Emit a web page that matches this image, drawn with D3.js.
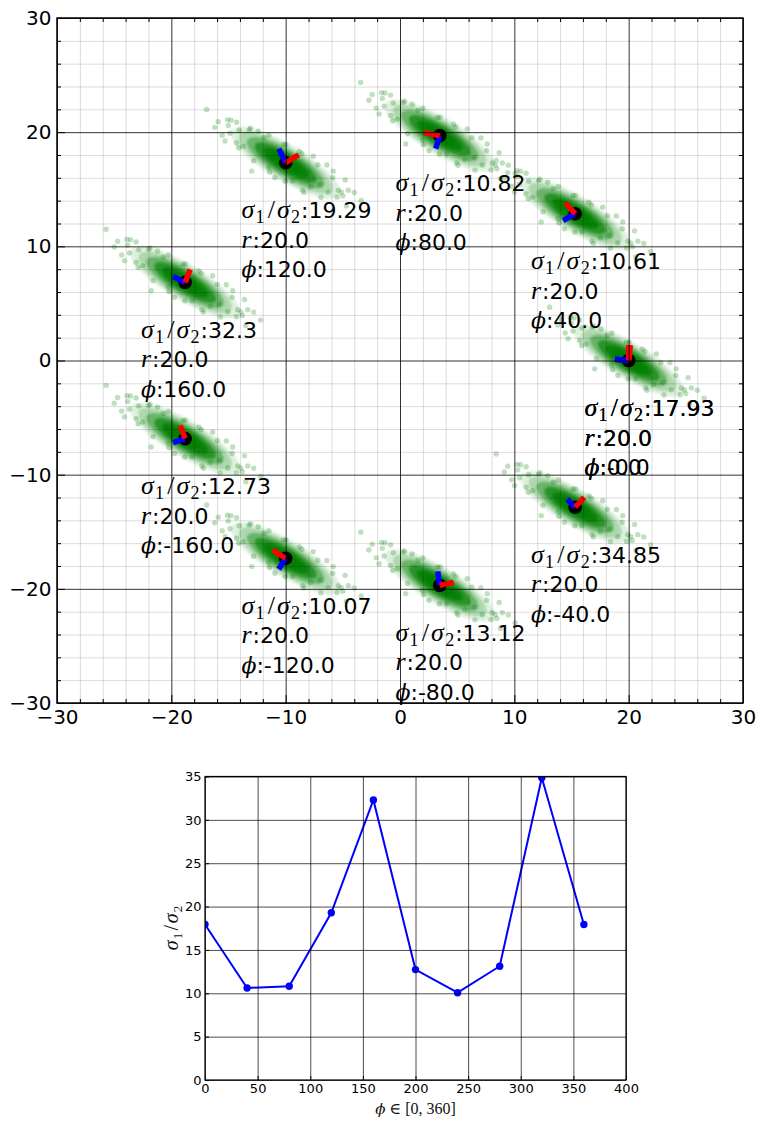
<!DOCTYPE html>
<html>
<head>
<meta charset="UTF-8">
<title>sigma ratio vs phi</title>
<script src="https://d3js.org/d3.v7.min.js"></script>
<style>
  body { margin: 0; background: white; }
  svg { display: block; }
  .tick text { fill: #000; }
</style>
</head>
<body>
<svg id="chart" width="757" height="1123"></svg>
<script>
// ---- data ----
const radius = 20;
const phis = [0, 40, 80, 120, 160, -160, -120, -80, -40, 360];
const phiLabels = ["0.0", "40.0", "80.0", "120.0", "160.0", "-160.0", "-120.0", "-80.0", "-40.0", "-0.0"];
const sigmaLabels = ["17.93", "10.61", "10.82", "19.29", "32.3", "12.73", "10.07", "13.12", "34.85", "17.93"];
// principal axis ends (offsets from centre, data units)
const redAxis = [[0, 1.35], [-0.87, 0.96], [-1.4, 0.26], [1.14, 0.7], [0.44, 1.14],
                 [-0.44, 1.14], [-1.14, 0.7], [1.22, 0.26], [0.79, 0.87], [0.15, 1.35]];
const blueAxis = [[-1.2, 0.1], [-1.05, -0.61], [-0.35, -1.14], [-0.61, 1.22], [-1.05, 0.52],
                  [-1.05, -0.35], [-0.61, -0.96], [-0.17, 1.22], [-0.7, 0.7], [-1.2, 0.1]];
// shape of each noise cloud: orientation (deg) and spread along / across it
const cloudAngle = -31;
const cloudSigma = [2.0, 0.58];
// loose points seen round the clouds (offsets, data units)
const speckle = [[-6.91, 4.66], [-5.02, 3.26], [-4.78, 3.73], [-5.55, 2.41], [-4.29, 3.55], [-4.06, 2.85],
  [-3.71, 1.45], [5.48, -2.4], [4.16, -0.73], [4.6, -2.4], [3.73, -2.57], [2.41, 0.58], [-2.97, -0.73],
  [-0.94, -1.31], [3.0, -1.9], [-4.29, 1.75], [-2.4, 2.76], [5.0, -2.9], [6.0, -2.6], [-3.2, 2.9],
  [1.2, 1.0], [-1.5, -0.4], [2.2, -2.1], [4.5, -3.0], [-5.9, 3.6], [0.6, -1.6], [-1.9, 2.2],
  [3.6, -0.2], [1.6, -2.6], [-5.3, 1.9], [5.2, -1.5], [-0.2, 1.6],
  [4.11, -1.31], [3.08, -3.02], [-3.08, 3.02], [-4.11, 1.31], [2.81, -0.17], [1.47, -2.4],
  [-1.47, 2.4], [-2.81, 0.17], [1.41, 0.79], [-0.03, -1.61], [0.03, 1.61], [-1.41, -0.79],
  [4.87, -2.58], [-4.87, 2.58], [5.31, -3.78], [-5.09, 3.76], [6.6, -3.3], [-6.2, 3.1]];

const phiDeg = [0, 40, 80, 120, 160, 200, 240, 280, 320, 360];
const ratio = [17.93, 10.61, 10.82, 19.29, 32.3, 12.73, 10.07, 13.12, 34.85, 17.93];

const sansFont = "DejaVu Sans, sans-serif";
const mathFont = "Liberation Serif, DejaVu Serif, serif";

const svg = d3.select("#chart");

// ================= top panel =================
const x = d3.scaleLinear().domain([-30, 30]).range([57, 743]);
const y = d3.scaleLinear().domain([-30, 30]).range([703, 18]);
const ppu = x(1) - x(0);

const upper = svg.append("g");
const centers = phis.map(p => [radius * Math.cos(p * Math.PI / 180), radius * Math.sin(p * Math.PI / 180)]);

const defs = svg.append("defs");
defs.append("filter").attr("id", "soft").append("feGaussianBlur").attr("stdDeviation", 1.3);
defs.append("clipPath").attr("id", "clipTop").append("rect")
  .attr("x", 57).attr("y", 18).attr("width", 686).attr("height", 685);

const clouds = upper.append("g").attr("clip-path", "url(#clipTop)");
const layers = [[2.75, 0.13], [2.35, 0.22], [1.95, 0.4], [1.55, 0.62], [1.15, 0.8], [0.75, 0.9]];

centers.forEach((c, i) => {
  if (i === 9) return; // 360 sits on top of 0
  const g = clouds.append("g")
    .attr("transform", `translate(${x(c[0])},${y(c[1])}) rotate(${-cloudAngle})`);
  g.append("g").attr("filter", "url(#soft)")
    .selectAll("ellipse").data(layers).join("ellipse")
    .attr("rx", d => d[0] * cloudSigma[0] * ppu)
    .attr("ry", d => d[0] * cloudSigma[1] * ppu)
    .attr("fill", "#008000")
    .attr("fill-opacity", d => d[1]);
  clouds.append("g").selectAll("circle").data(speckle).join("circle")
    .attr("cx", d => x(c[0] + d[0]))
    .attr("cy", d => y(c[1] + d[1]))
    .attr("r", 2.7)
    .attr("fill", "#008000")
    .attr("fill-opacity", 0.25);
});

// centres and principal axes
centers.forEach((c, i) => {
  upper.append("circle").attr("cx", x(c[0])).attr("cy", y(c[1])).attr("r", 6.8).attr("fill", "#000");
});
centers.forEach((c, i) => {
  upper.append("line")
    .attr("x1", x(c[0])).attr("y1", y(c[1]))
    .attr("x2", x(c[0] + blueAxis[i][0])).attr("y2", y(c[1] + blueAxis[i][1]))
    .attr("stroke", "#0000ff").attr("stroke-width", 5.5);
  upper.append("line")
    .attr("x1", x(c[0])).attr("y1", y(c[1]))
    .attr("x2", x(c[0] + redAxis[i][0])).attr("y2", y(c[1] + redAxis[i][1]))
    .attr("stroke", "#ff0000").attr("stroke-width", 5.5);
});

// grid (drawn over the data, classic style)
const minor = d3.range(-28, 30, 2).filter(v => v % 10 !== 0);
const gridTop = upper.append("g");
gridTop.append("g").attr("transform", "translate(0,703)")
  .call(d3.axisBottom(x).tickValues(minor).tickSize(-685).tickFormat(""))
  .call(g => g.select(".domain").remove())
  .selectAll("line").attr("stroke", "#000").attr("stroke-opacity", 0.14);
gridTop.append("g").attr("transform", "translate(57,0)")
  .call(d3.axisLeft(y).tickValues(minor).tickSize(-686).tickFormat(""))
  .call(g => g.select(".domain").remove())
  .selectAll("line").attr("stroke", "#000").attr("stroke-opacity", 0.14);
gridTop.append("g").attr("transform", "translate(0,703)")
  .call(d3.axisBottom(x).ticks(6).tickSize(-685).tickFormat(""))
  .call(g => g.select(".domain").remove())
  .selectAll("line").attr("stroke", "#000").attr("stroke-opacity", 0.8);
gridTop.append("g").attr("transform", "translate(57,0)")
  .call(d3.axisLeft(y).ticks(6).tickSize(-686).tickFormat(""))
  .call(g => g.select(".domain").remove())
  .selectAll("line").attr("stroke", "#000").attr("stroke-opacity", 0.8);

// minor ticks inward on all four sides
[["axisBottom", "translate(0,703)", x], ["axisTop", "translate(0,18)", x],
 ["axisLeft", "translate(57,0)", y], ["axisRight", "translate(743,0)", y]].forEach(([fn, tr, sc]) => {
  upper.append("g").attr("transform", tr)
    .call(d3[fn](sc).tickValues(minor).tickSize(-4).tickFormat(""))
    .call(g => g.select(".domain").remove())
    .selectAll("line").attr("stroke", "#000");
});

// tick labels
upper.append("g").attr("transform", "translate(0,703)")
  .call(d3.axisBottom(x).ticks(6).tickSize(-8).tickPadding(6.5))
  .call(g => g.select(".domain").remove())
  .call(g => g.selectAll("text").attr("font-family", sansFont).attr("font-size", 20));
upper.append("g").attr("transform", "translate(57,0)")
  .call(d3.axisLeft(y).ticks(6).tickSize(-8).tickPadding(5.5))
  .call(g => g.select(".domain").remove())
  .call(g => g.selectAll("text").attr("font-family", sansFont).attr("font-size", 20));

upper.append("rect").attr("x", 57).attr("y", 18).attr("width", 686).attr("height", 685)
  .attr("fill", "none").attr("stroke", "#000").attr("stroke-width", 1.5);

// annotations
function sigmaText(t, size, sub) {
  const drop = size * 0.2;
  t.append("tspan").attr("font-family", mathFont).attr("font-style", "italic").attr("font-size", size).text("σ");
  t.append("tspan").attr("font-family", mathFont).attr("font-size", sub).attr("dy", drop).attr("dx", size * 0.05).text("1");
  t.append("tspan").attr("font-family", mathFont).attr("font-size", size).attr("dy", -drop).attr("dx", size * 0.12).text("/");
  t.append("tspan").attr("font-family", mathFont).attr("font-style", "italic").attr("font-size", size).attr("dx", size * 0.08).text("σ");
  t.append("tspan").attr("font-family", mathFont).attr("font-size", sub).attr("dy", drop).attr("dx", size * 0.05).text("2");
  return drop;
}

const notes = upper.append("g");
centers.forEach((c, i) => {
  const tx = x(c[0] - 4) + 1.5, ty = y(c[1]);
  const t1 = notes.append("text").attr("x", tx).attr("y", ty + 55.5);
  const drop = sigmaText(t1, 26, 18);
  t1.append("tspan").attr("font-family", sansFont).attr("font-size", 22).attr("dy", -drop).attr("dx", 1)
    .text(":" + sigmaLabels[i]);
  const t2 = notes.append("text").attr("x", tx).attr("y", ty + 85).attr("font-size", 22);
  t2.append("tspan").attr("font-family", mathFont).attr("font-style", "italic").attr("font-size", 26).text("r");
  t2.append("tspan").attr("font-family", sansFont).attr("dx", 1).text(":20.0");
  const t3 = notes.append("text").attr("x", tx).attr("y", ty + 114.5).attr("font-size", 22);
  t3.append("tspan").attr("font-family", "DejaVu Serif, serif").attr("font-style", "italic").attr("font-size", 22).text("ϕ");
  t3.append("tspan").attr("font-family", sansFont).text(":" + phiLabels[i]);
});

// ================= bottom panel =================
const bx = d3.scaleLinear().domain([0, 400]).range([205, 626]);
const by = d3.scaleLinear().domain([0, 35]).range([1080, 776.5]);
defs.append("clipPath").attr("id", "clipBot").append("rect")
  .attr("x", 205).attr("y", 776.5).attr("width", 421).attr("height", 303.5);

const bot = svg.append("g");
const plot = bot.append("g").attr("clip-path", "url(#clipBot)");
plot.append("path")
  .datum(phiDeg.map((p, i) => [p, ratio[i]]))
  .attr("d", d3.line().x(d => bx(d[0])).y(d => by(d[1])))
  .attr("fill", "none").attr("stroke", "#0000ff").attr("stroke-width", 2);
plot.selectAll("circle").data(phiDeg.map((p, i) => [p, ratio[i]])).join("circle")
  .attr("cx", d => bx(d[0])).attr("cy", d => by(d[1])).attr("r", 3.7).attr("fill", "#0000ff");

bot.append("g").attr("transform", "translate(0,1080)")
  .call(d3.axisBottom(bx).ticks(8).tickSize(-303.5).tickFormat(""))
  .call(g => g.select(".domain").remove())
  .selectAll("line").attr("stroke", "#000").attr("stroke-opacity", 0.7);
bot.append("g").attr("transform", "translate(205,0)")
  .call(d3.axisLeft(by).ticks(7).tickSize(-421).tickFormat(""))
  .call(g => g.select(".domain").remove())
  .selectAll("line").attr("stroke", "#000").attr("stroke-opacity", 0.7);

bot.append("g").attr("transform", "translate(0,1080)")
  .call(d3.axisBottom(bx).ticks(8).tickSize(-4).tickPadding(4))
  .call(g => g.select(".domain").remove())
  .call(g => g.selectAll("text").attr("font-family", sansFont).attr("font-size", 13));
bot.append("g").attr("transform", "translate(205,0)")
  .call(d3.axisLeft(by).ticks(7).tickSize(-4).tickPadding(3.5))
  .call(g => g.select(".domain").remove())
  .call(g => g.selectAll("text").attr("font-family", sansFont).attr("font-size", 13));

bot.append("rect").attr("x", 205).attr("y", 776.5).attr("width", 421).attr("height", 303.5)
  .attr("fill", "none").attr("stroke", "#000").attr("stroke-width", 1.2);

// axis labels
const yl = bot.append("text").attr("transform", "translate(178,928) rotate(-90)")
  .attr("text-anchor", "middle").attr("fill", "#111");
sigmaText(yl, 20, 13);

const xl = bot.append("text").attr("x", 415.5).attr("y", 1114).attr("text-anchor", "middle")
  .attr("font-size", 16).attr("fill", "#111");
xl.append("tspan").attr("font-family", "DejaVu Serif, serif").attr("font-style", "italic").attr("font-size", 15).text("ϕ");
xl.append("tspan").attr("font-family", mathFont).text(" ∈ [0, 360]");
</script>
</body>
</html>
